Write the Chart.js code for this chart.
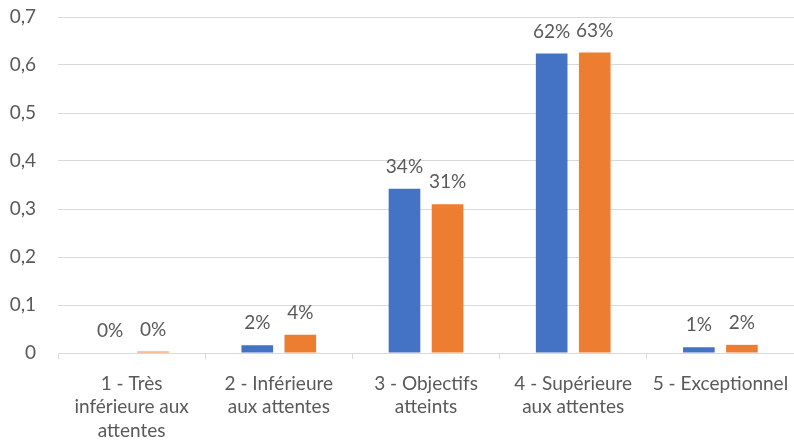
<!DOCTYPE html>
<html><head><meta charset="utf-8">
<script src="https://cdn.jsdelivr.net/npm/chart.js@4"></script>
<style>html,body{margin:0;padding:0;background:#fff}#wrap{width:794px;height:444px}</style>
</head><body><div id="wrap"><canvas id="c"></canvas></div>
<script>
const categories = [
  ["1 - Très", "inférieure aux", "attentes"],
  ["2 - Inférieure", "aux attentes"],
  ["3 - Objectifs", "atteints"],
  ["4 - Supérieure", "aux attentes"],
  ["5 - Exceptionnel"]
];
const series1 = [0, 0.016, 0.342, 0.624, 0.012];
const series2 = [0.003, 0.038, 0.31, 0.626, 0.017];
const labels1 = ["0%", "2%", "34%", "62%", "1%"];
const labels2 = ["0%", "4%", "31%", "63%", "2%"];
const yTicks = ["0", "0,1", "0,2", "0,3", "0,4", "0,5", "0,6", "0,7"];

const FONT = "Lato, 'Open Sans', sans-serif";
const TXT = "#595959";

const dataLabelPlugin = {
  id: 'dl',
  afterDatasetsDraw(chart) {
    const ctx = chart.ctx;
    const all = [labels1, labels2];
    ctx.save();
    ctx.font = "19px " + FONT;
    ctx.fillStyle = TXT;
    ctx.textAlign = "center";
    ctx.textBaseline = "middle";
    chart.data.datasets.forEach((ds, i) => {
      chart.getDatasetMeta(i).data.forEach((el, j) => {
        ctx.fillText(all[i][j], el.x, el.y - 22);
      });
    });
    ctx.restore();
  }
};

new Chart(document.getElementById('c'), {
  type: 'bar',
  data: {
    labels: categories,
    datasets: [
      { data: series1, backgroundColor: '#4472C4', categoryPercentage: 0.585, barPercentage: 0.735 },
      { data: series2, backgroundColor: '#ED7D31', categoryPercentage: 0.585, barPercentage: 0.735 }
    ]
  },
  options: {
    responsive: true,
    maintainAspectRatio: false,
    animation: false,
    layout: { padding: { top: 17, right: 0, bottom: 0, left: 0 } },
    plugins: { legend: { display: false }, tooltip: { enabled: false } },
    scales: {
      x: {
        afterFit(s) { s.height = 91; s.paddingRight = 0; s.paddingLeft = 0; },
        grid: { drawOnChartArea: false, drawTicks: true, tickLength: 6, color: '#d9d9d9', offset: true },
        border: { display: true, color: '#d9d9d9' },
        ticks: { color: TXT, font: { family: FONT, size: 19, lineHeight: 1.24 }, padding: 13, maxRotation: 0, autoSkip: false }
      },
      y: {
        min: 0, max: 0.7,
        afterFit(s) { s.width = 58; s.paddingTop = 0; s.paddingBottom = 0; },
        afterBuildTicks(s) { s.ticks = yTicks.map((t, i) => ({ value: i / 10 })); },
        grid: { color: '#d9d9d9', drawTicks: false },
        border: { display: false },
        ticks: {
          color: TXT, font: { family: FONT, size: 19 }, padding: 22,
          callback: (v, i) => yTicks[i]
        }
      }
    }
  },
  plugins: [dataLabelPlugin]
});
</script></body></html>
